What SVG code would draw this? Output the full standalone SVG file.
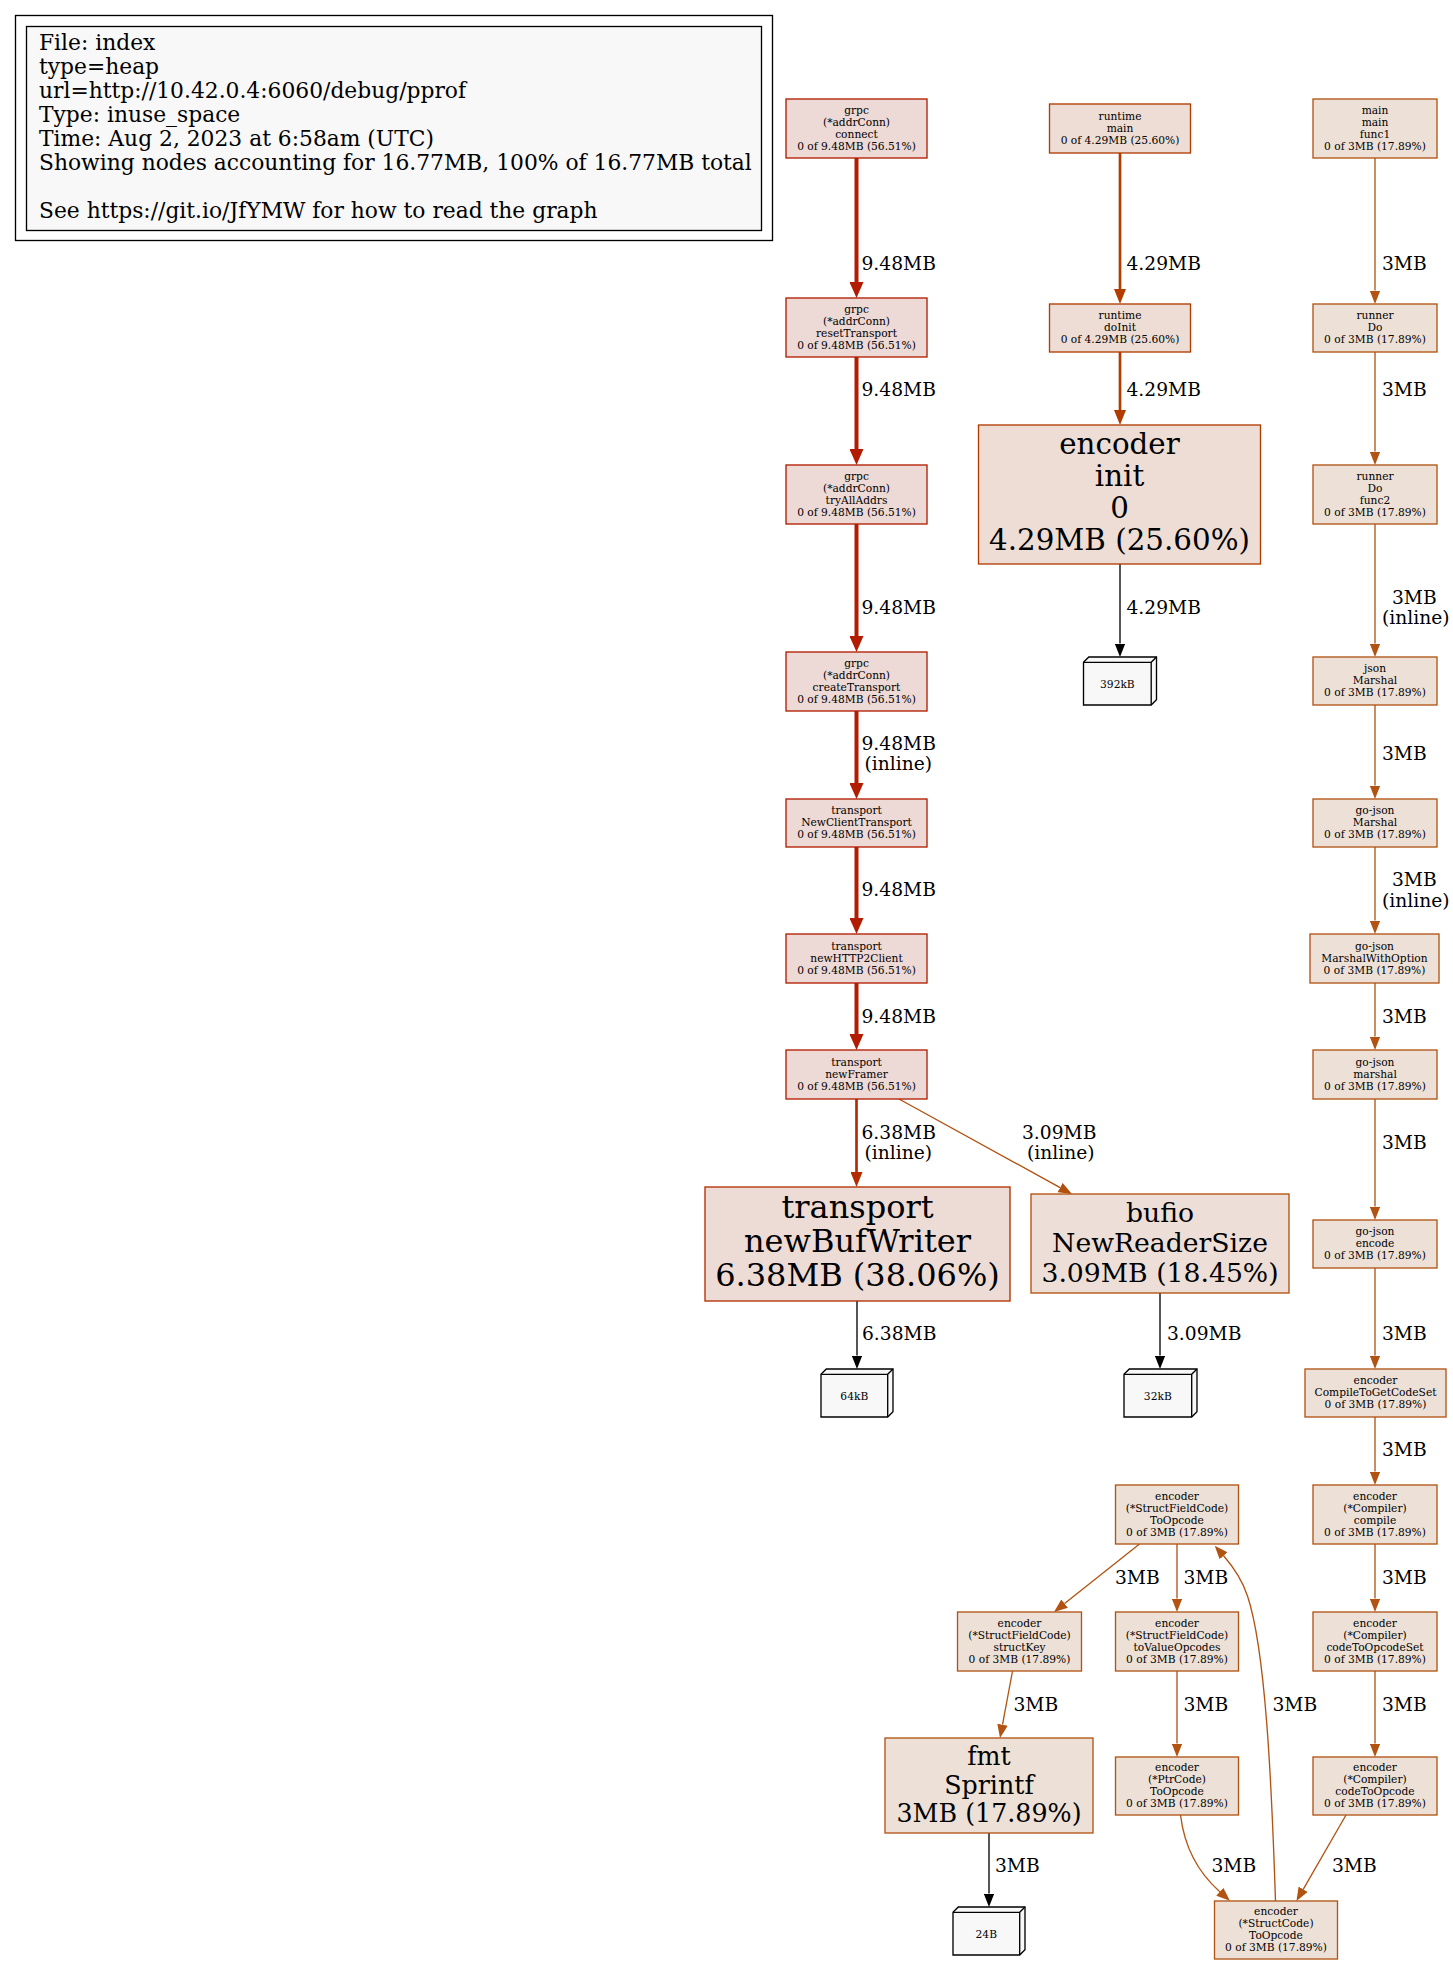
<svg xmlns="http://www.w3.org/2000/svg" width="1453" height="1965" viewBox="0 0 1453 1965">
<style>
text{font-family:"DejaVu Serif",serif;fill:#000}
.s{font-size:10.67px;text-anchor:middle}
.lbl{font-size:18.67px}
.lg{font-size:21.8px}
.nR{fill:#edd9d5;stroke:#b21c00;stroke-width:1.33}
.nB{fill:#eddbd5;stroke:#b22c00;stroke-width:1.33}
.nO{fill:#edddd5;stroke:#b23b00;stroke-width:1.33}
.nF{fill:#eddfd7;stroke:#b24f0d;stroke-width:1.33}
.nT{fill:#ede0d7;stroke:#b25312;stroke-width:1.33}
.tag{fill:#f8f8f8;stroke:#000;stroke-width:1.33}
.tagl{fill:none;stroke:#000;stroke-width:1.33}
.eR{fill:none;stroke:#b21c00;stroke-width:4}
.eO{fill:none;stroke:#b23b00;stroke-width:2.67}
.eB{fill:none;stroke:#b22c00;stroke-width:2.67}
.eT{fill:none;stroke:#b25312;stroke-width:1.33}
.eF{fill:none;stroke:#b24f0d;stroke-width:1.33}
.eK{fill:none;stroke:#000;stroke-width:1.33}
</style>
<defs>
<marker id="mR" viewBox="0 -7 16 14" markerWidth="16" markerHeight="14" refX="0" refY="0" orient="auto" markerUnits="userSpaceOnUse"><path d="M0,-7L16,0L0,7z" fill="#b21c00"/></marker>
<marker id="mO" viewBox="0 -6 15 12" markerWidth="15" markerHeight="12" refX="0" refY="0" orient="auto" markerUnits="userSpaceOnUse"><path d="M0,-6L15,0L0,6z" fill="#b23b00"/></marker>
<marker id="mB" viewBox="0 -6 15 12" markerWidth="15" markerHeight="12" refX="0" refY="0" orient="auto" markerUnits="userSpaceOnUse"><path d="M0,-6L15,0L0,6z" fill="#b22c00"/></marker>
<marker id="mT" viewBox="0 -5.3 13.5 10.6" markerWidth="13.5" markerHeight="10.6" refX="0" refY="0" orient="auto" markerUnits="userSpaceOnUse"><path d="M0,-5.3L13.5,0L0,5.3z" fill="#b25312"/></marker>
<marker id="mF" viewBox="0 -5.3 13.5 10.6" markerWidth="13.5" markerHeight="10.6" refX="0" refY="0" orient="auto" markerUnits="userSpaceOnUse"><path d="M0,-5.3L13.5,0L0,5.3z" fill="#b24f0d"/></marker>
<marker id="mK" viewBox="0 -5.3 13.5 10.6" markerWidth="13.5" markerHeight="10.6" refX="0" refY="0" orient="auto" markerUnits="userSpaceOnUse"><path d="M0,-5.3L13.5,0L0,5.3z" fill="#000"/></marker>
</defs>
<rect width="1453" height="1965" fill="#fff"/>

<g id="legend">
<rect x="15.5" y="15.5" width="757" height="225" fill="#fff" stroke="#000" stroke-width="1.33"/>
<rect x="26.5" y="26.5" width="735" height="204" fill="#f8f8f8" stroke="#000" stroke-width="1.33"/>
<text class="lg" x="39" y="50">File: index</text>
<text class="lg" x="39" y="74">type=heap</text>
<text class="lg" x="39" y="98">url=http://10.42.0.4:6060/debug/pprof</text>
<text class="lg" x="39" y="122">Type: inuse_space</text>
<text class="lg" x="39" y="146">Time: Aug 2, 2023 at 6:58am (UTC)</text>
<text class="lg" x="39" y="170">Showing nodes accounting for 16.77MB, 100% of 16.77MB total</text>
<text class="lg" x="39" y="218">See https://git.io/JfYMW for how to read the graph</text>
</g>

<g id="edges">
<path class="eR" d="M856.5,158V282" marker-end="url(#mR)"/>
<path class="eR" d="M856.5,357V449" marker-end="url(#mR)"/>
<path class="eR" d="M856.5,524V636" marker-end="url(#mR)"/>
<path class="eR" d="M856.5,711V783" marker-end="url(#mR)"/>
<path class="eR" d="M856.5,847V918" marker-end="url(#mR)"/>
<path class="eR" d="M856.5,983V1034" marker-end="url(#mR)"/>
<path class="eB" d="M856.5,1099V1172" marker-end="url(#mB)"/>
<path class="eF" d="M899,1099L1060.1,1187.6" marker-end="url(#mF)"/>
<path class="eK" d="M857,1301V1355.5" marker-end="url(#mK)"/>
<path class="eO" d="M1120,153V289" marker-end="url(#mO)"/>
<path class="eO" d="M1120,352V410" marker-end="url(#mO)"/>
<path class="eK" d="M1120,564V643.5" marker-end="url(#mK)"/>
<path class="eK" d="M1160,1293V1355.5" marker-end="url(#mK)"/>
<path class="eT" d="M1375,158V290.5" marker-end="url(#mT)"/>
<path class="eT" d="M1375,352V451.5" marker-end="url(#mT)"/>
<path class="eT" d="M1375,524V643.5" marker-end="url(#mT)"/>
<path class="eT" d="M1375,705V785.5" marker-end="url(#mT)"/>
<path class="eT" d="M1375,847V920.5" marker-end="url(#mT)"/>
<path class="eT" d="M1375,983V1036.5" marker-end="url(#mT)"/>
<path class="eT" d="M1375,1099V1206.5" marker-end="url(#mT)"/>
<path class="eT" d="M1375,1268V1355.5" marker-end="url(#mT)"/>
<path class="eT" d="M1375,1417V1471.5" marker-end="url(#mT)"/>
<path class="eT" d="M1375,1544V1598.5" marker-end="url(#mT)"/>
<path class="eT" d="M1375,1671V1743.5" marker-end="url(#mT)"/>
<path class="eT" d="M1346,1815L1303.2,1889.3" marker-end="url(#mT)"/>
<path class="eT" d="M1139.5,1544L1064.6,1603.6" marker-end="url(#mT)"/>
<path class="eT" d="M1177,1544V1598.5" marker-end="url(#mT)"/>
<path class="eT" d="M1012.5,1671L1002.5,1724.7" marker-end="url(#mT)"/>
<path class="eT" d="M1177,1671V1743.5" marker-end="url(#mT)"/>
<path class="eT" d="M1180.5,1815C1184.5,1848 1197.5,1872 1219.8,1891.7" marker-end="url(#mT)"/>
<path class="eT" d="M1275.5,1901C1271.5,1780 1265.5,1650 1247.5,1596C1241.5,1578 1232.5,1566 1223.6,1555.8" marker-end="url(#mT)"/>
<path class="eK" d="M989,1833V1893.5" marker-end="url(#mK)"/>

<text class="lbl" x="861.5" y="269.5">9.48MB</text>
<text class="lbl" x="861.5" y="395.5">9.48MB</text>
<text class="lbl" x="861.5" y="613.5">9.48MB</text>
<text class="lbl" x="861.5" y="749.5">9.48MB</text>
<text class="lbl" x="864.5" y="769.5">(inline)</text>
<text class="lbl" x="861.5" y="895.5">9.48MB</text>
<text class="lbl" x="861.5" y="1022.5">9.48MB</text>
<text class="lbl" x="861.5" y="1138.5">6.38MB</text>
<text class="lbl" x="864.5" y="1158.5">(inline)</text>
<text class="lbl" x="1022" y="1138.5">3.09MB</text>
<text class="lbl" x="1027" y="1158.5">(inline)</text>
<text class="lbl" x="862" y="1339.5">6.38MB</text>
<text class="lbl" x="1126.5" y="269.5">4.29MB</text>
<text class="lbl" x="1126.5" y="395.5">4.29MB</text>
<text class="lbl" x="1126.5" y="613.5">4.29MB</text>
<text class="lbl" x="1167" y="1339.5">3.09MB</text>
<text class="lbl" x="1382" y="269.5">3MB</text>
<text class="lbl" x="1382" y="395.5">3MB</text>
<text class="lbl" x="1392" y="603.5">3MB</text>
<text class="lbl" x="1382" y="623.5">(inline)</text>
<text class="lbl" x="1382" y="759.5">3MB</text>
<text class="lbl" x="1392" y="885.5">3MB</text>
<text class="lbl" x="1382" y="906.5">(inline)</text>
<text class="lbl" x="1382" y="1022.5">3MB</text>
<text class="lbl" x="1382" y="1148.5">3MB</text>
<text class="lbl" x="1382" y="1339.5">3MB</text>
<text class="lbl" x="1382" y="1455.5">3MB</text>
<text class="lbl" x="1382" y="1583.5">3MB</text>
<text class="lbl" x="1382" y="1710.5">3MB</text>
<text class="lbl" x="1332" y="1871.5">3MB</text>
<text class="lbl" x="1115" y="1583.5">3MB</text>
<text class="lbl" x="1183.5" y="1583.5">3MB</text>
<text class="lbl" x="1013.5" y="1710.5">3MB</text>
<text class="lbl" x="1183.5" y="1710.5">3MB</text>
<text class="lbl" x="1272.5" y="1710.5">3MB</text>
<text class="lbl" x="995" y="1871.5">3MB</text>
<text class="lbl" x="1211.5" y="1871.5">3MB</text>
</g>

<g id="N1"><rect class="nR" x="786" y="99" width="141" height="59"/><text class="s"><tspan x="856.5" y="113.5">grpc</tspan><tspan x="856.5" y="125.5">(*addrConn)</tspan><tspan x="856.5" y="137.5">connect</tspan><tspan x="856.5" y="149.5">0 of 9.48MB (56.51%)</tspan></text></g>
<g id="N2"><rect class="nR" x="786" y="298" width="141" height="59"/><text class="s"><tspan x="856.5" y="312.5">grpc</tspan><tspan x="856.5" y="324.5">(*addrConn)</tspan><tspan x="856.5" y="336.5">resetTransport</tspan><tspan x="856.5" y="348.5">0 of 9.48MB (56.51%)</tspan></text></g>
<g id="N3"><rect class="nR" x="786" y="465" width="141" height="59"/><text class="s"><tspan x="856.5" y="479.5">grpc</tspan><tspan x="856.5" y="491.5">(*addrConn)</tspan><tspan x="856.5" y="503.5">tryAllAddrs</tspan><tspan x="856.5" y="515.5">0 of 9.48MB (56.51%)</tspan></text></g>
<g id="N4"><rect class="nR" x="786" y="652" width="141" height="59"/><text class="s"><tspan x="856.5" y="666.5">grpc</tspan><tspan x="856.5" y="678.5">(*addrConn)</tspan><tspan x="856.5" y="690.5">createTransport</tspan><tspan x="856.5" y="702.5">0 of 9.48MB (56.51%)</tspan></text></g>
<g id="N5"><rect class="nR" x="786" y="799" width="141" height="48"/><text class="s"><tspan x="856.5" y="814">transport</tspan><tspan x="856.5" y="826">NewClientTransport</tspan><tspan x="856.5" y="838">0 of 9.48MB (56.51%)</tspan></text></g>
<g id="N6"><rect class="nR" x="786" y="934" width="141" height="49"/><text class="s"><tspan x="856.5" y="949.5">transport</tspan><tspan x="856.5" y="961.5">newHTTP2Client</tspan><tspan x="856.5" y="973.5">0 of 9.48MB (56.51%)</tspan></text></g>
<g id="N7"><rect class="nR" x="786" y="1050" width="141" height="49"/><text class="s"><tspan x="856.5" y="1065.5">transport</tspan><tspan x="856.5" y="1077.5">newFramer</tspan><tspan x="856.5" y="1089.5">0 of 9.48MB (56.51%)</tspan></text></g>
<g id="N8"><rect class="nB" x="705" y="1187" width="305" height="114"/><text style="font-size:32px;text-anchor:middle"><tspan x="857.5" y="1218">transport</tspan><tspan x="857.5" y="1252">newBufWriter</tspan><tspan x="857.5" y="1286">6.38MB (38.06%)</tspan></text></g>

<g id="N9"><rect class="nO" x="1049.5" y="104" width="141" height="49"/><text class="s"><tspan x="1120" y="119.5">runtime</tspan><tspan x="1120" y="131.5">main</tspan><tspan x="1120" y="143.5">0 of 4.29MB (25.60%)</tspan></text></g>
<g id="N10"><rect class="nO" x="1049.5" y="304" width="141" height="48"/><text class="s"><tspan x="1120" y="319">runtime</tspan><tspan x="1120" y="331">doInit</tspan><tspan x="1120" y="343">0 of 4.29MB (25.60%)</tspan></text></g>
<g id="N11"><rect class="nO" x="978.5" y="425" width="282" height="139"/><text style="font-size:29.33px;text-anchor:middle"><tspan x="1119.5" y="454">encoder</tspan><tspan x="1119.5" y="486">init</tspan><tspan x="1119.5" y="518">0</tspan><tspan x="1119.5" y="550">4.29MB (25.60%)</tspan></text></g>
<g id="N12"><rect class="nF" x="1031" y="1194" width="258" height="99"/><text style="font-size:26.67px;text-anchor:middle"><tspan x="1160" y="1221.5">bufio</tspan><tspan x="1160" y="1251.5">NewReaderSize</tspan><tspan x="1160" y="1281.5">3.09MB (18.45%)</tspan></text></g>

<g id="N13"><rect class="nT" x="1313" y="99" width="124" height="59"/><text class="s"><tspan x="1375" y="113.5">main</tspan><tspan x="1375" y="125.5">main</tspan><tspan x="1375" y="137.5">func1</tspan><tspan x="1375" y="149.5">0 of 3MB (17.89%)</tspan></text></g>
<g id="N14"><rect class="nT" x="1313" y="304" width="124" height="48"/><text class="s"><tspan x="1375" y="319">runner</tspan><tspan x="1375" y="331">Do</tspan><tspan x="1375" y="343">0 of 3MB (17.89%)</tspan></text></g>
<g id="N15"><rect class="nT" x="1313" y="465" width="124" height="59"/><text class="s"><tspan x="1375" y="479.5">runner</tspan><tspan x="1375" y="491.5">Do</tspan><tspan x="1375" y="503.5">func2</tspan><tspan x="1375" y="515.5">0 of 3MB (17.89%)</tspan></text></g>
<g id="N16"><rect class="nT" x="1313" y="657" width="124" height="48"/><text class="s"><tspan x="1375" y="672">json</tspan><tspan x="1375" y="684">Marshal</tspan><tspan x="1375" y="696">0 of 3MB (17.89%)</tspan></text></g>
<g id="N17"><rect class="nT" x="1313" y="799" width="124" height="48"/><text class="s"><tspan x="1375" y="814">go-json</tspan><tspan x="1375" y="826">Marshal</tspan><tspan x="1375" y="838">0 of 3MB (17.89%)</tspan></text></g>
<g id="N18"><rect class="nT" x="1310" y="934" width="129" height="49"/><text class="s"><tspan x="1374.5" y="949.5">go-json</tspan><tspan x="1374.5" y="961.5">MarshalWithOption</tspan><tspan x="1374.5" y="973.5">0 of 3MB (17.89%)</tspan></text></g>
<g id="N19"><rect class="nT" x="1313" y="1050" width="124" height="49"/><text class="s"><tspan x="1375" y="1065.5">go-json</tspan><tspan x="1375" y="1077.5">marshal</tspan><tspan x="1375" y="1089.5">0 of 3MB (17.89%)</tspan></text></g>
<g id="N20"><rect class="nT" x="1313" y="1220" width="124" height="48"/><text class="s"><tspan x="1375" y="1235">go-json</tspan><tspan x="1375" y="1247">encode</tspan><tspan x="1375" y="1259">0 of 3MB (17.89%)</tspan></text></g>
<g id="N21"><rect class="nT" x="1305" y="1369" width="141" height="48"/><text class="s"><tspan x="1375.5" y="1384">encoder</tspan><tspan x="1375.5" y="1396">CompileToGetCodeSet</tspan><tspan x="1375.5" y="1408">0 of 3MB (17.89%)</tspan></text></g>
<g id="N22"><rect class="nT" x="1313" y="1485" width="124" height="59"/><text class="s"><tspan x="1375" y="1499.5">encoder</tspan><tspan x="1375" y="1511.5">(*Compiler)</tspan><tspan x="1375" y="1523.5">compile</tspan><tspan x="1375" y="1535.5">0 of 3MB (17.89%)</tspan></text></g>
<g id="N23"><rect class="nT" x="1313" y="1612" width="124" height="59"/><text class="s"><tspan x="1375" y="1626.5">encoder</tspan><tspan x="1375" y="1638.5">(*Compiler)</tspan><tspan x="1375" y="1650.5">codeToOpcodeSet</tspan><tspan x="1375" y="1662.5">0 of 3MB (17.89%)</tspan></text></g>
<g id="N24"><rect class="nT" x="1313" y="1757" width="124" height="58"/><text class="s"><tspan x="1375" y="1771">encoder</tspan><tspan x="1375" y="1783">(*Compiler)</tspan><tspan x="1375" y="1795">codeToOpcode</tspan><tspan x="1375" y="1807">0 of 3MB (17.89%)</tspan></text></g>

<g id="N25"><rect class="nT" x="1115.5" y="1485" width="123" height="59"/><text class="s"><tspan x="1177" y="1499.5">encoder</tspan><tspan x="1177" y="1511.5">(*StructFieldCode)</tspan><tspan x="1177" y="1523.5">ToOpcode</tspan><tspan x="1177" y="1535.5">0 of 3MB (17.89%)</tspan></text></g>
<g id="N26"><rect class="nT" x="957.5" y="1612" width="124" height="59"/><text class="s"><tspan x="1019.5" y="1626.5">encoder</tspan><tspan x="1019.5" y="1638.5">(*StructFieldCode)</tspan><tspan x="1019.5" y="1650.5">structKey</tspan><tspan x="1019.5" y="1662.5">0 of 3MB (17.89%)</tspan></text></g>
<g id="N27"><rect class="nT" x="1115.5" y="1612" width="123" height="59"/><text class="s"><tspan x="1177" y="1626.5">encoder</tspan><tspan x="1177" y="1638.5">(*StructFieldCode)</tspan><tspan x="1177" y="1650.5">toValueOpcodes</tspan><tspan x="1177" y="1662.5">0 of 3MB (17.89%)</tspan></text></g>
<g id="N28"><rect class="nT" x="885" y="1738" width="208" height="95"/><text style="font-size:25.33px;text-anchor:middle"><tspan x="989" y="1765">fmt</tspan><tspan x="989" y="1793.5">Sprintf</tspan><tspan x="989" y="1822">3MB (17.89%)</tspan></text></g>
<g id="N29"><rect class="nT" x="1115.5" y="1757" width="123" height="58"/><text class="s"><tspan x="1177" y="1771">encoder</tspan><tspan x="1177" y="1783">(*PtrCode)</tspan><tspan x="1177" y="1795">ToOpcode</tspan><tspan x="1177" y="1807">0 of 3MB (17.89%)</tspan></text></g>
<g id="N30"><rect class="nT" x="1214.5" y="1901" width="123" height="58"/><text class="s"><tspan x="1276" y="1915">encoder</tspan><tspan x="1276" y="1927">(*StructCode)</tspan><tspan x="1276" y="1939">ToOpcode</tspan><tspan x="1276" y="1951">0 of 3MB (17.89%)</tspan></text></g>

<g id="T392kB"><path class="tag" d="M1083.5,662.3L1088.8,657H1156.5V699.7L1151.2,705H1083.5Z"/><path class="tagl" d="M1151.2,705V662.3H1083.5M1151.2,662.3L1156.5,657"/><text class="s" x="1117.4" y="687.5">392kB</text></g>
<g id="T64kB"><path class="tag" d="M821,1374.3L826.3,1369H893V1411.7L887.7,1417H821Z"/><path class="tagl" d="M887.7,1417V1374.3H821M887.7,1374.3L893,1369"/><text class="s" x="854.3" y="1399.5">64kB</text></g>
<g id="T32kB"><path class="tag" d="M1124,1374.3L1129.3,1369H1197V1411.7L1191.7,1417H1124Z"/><path class="tagl" d="M1191.7,1417V1374.3H1124M1191.7,1374.3L1197,1369"/><text class="s" x="1157.8" y="1399.5">32kB</text></g>
<g id="T24B"><path class="tag" d="M953,1912.3L958.3,1907H1025V1949.7L1019.7,1955H953Z"/><path class="tagl" d="M1019.7,1955V1912.3H953M1019.7,1912.3L1025,1907"/><text class="s" x="986.3" y="1937.5">24B</text></g>
</svg>
